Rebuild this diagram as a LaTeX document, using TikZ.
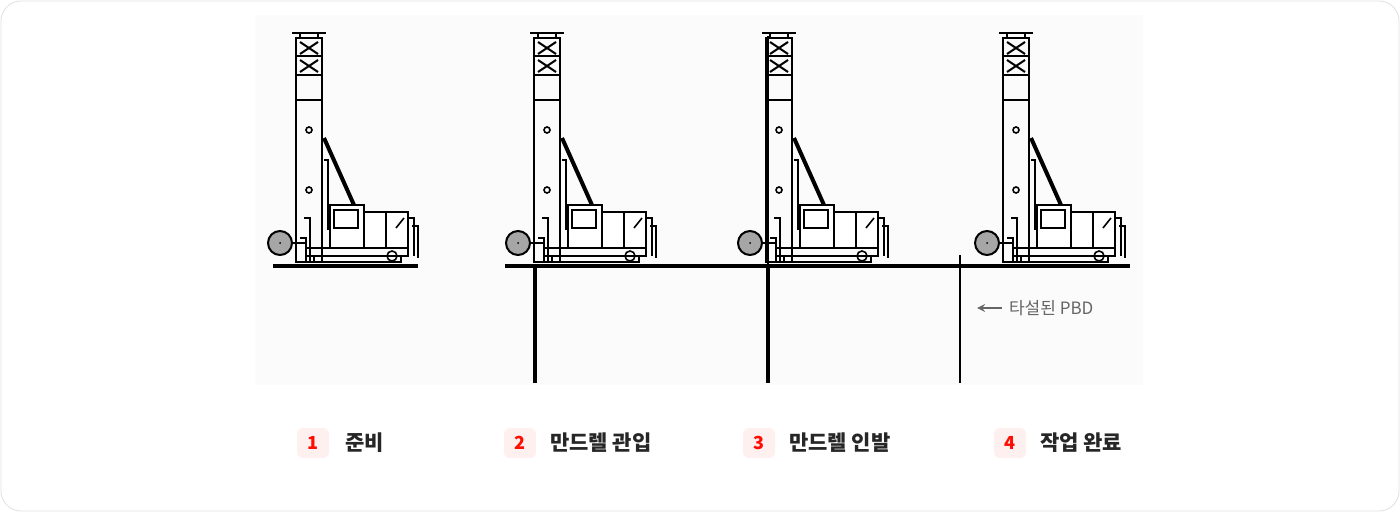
\documentclass[tikz,border=0pt]{standalone}
\usepackage{fontspec}
\setmainfont{Noto Sans CJK KR}
\begin{document}
\begin{tikzpicture}[x=0.5pt,y=-0.5pt,
  lbl/.style={font=\fontsize{10.5}{12}\selectfont\bfseries, text=black!85},
  badge/.style={fill=red!6, rounded corners=3pt, minimum width=16pt, minimum height=15pt, text=red!90!orange, font=\fontsize{9}{10}\selectfont\bfseries},
  ln/.style={line width=1.2pt},
  machine/.pic={
    \draw[ln] (0,38) rectangle (26,262);
    \draw[ln] (-4,33) -- (30,33); \draw[line width=0.6pt] (4,33)--(4,38) (22,33)--(22,38);
    \draw[ln] (0,56) -- (26,56) (0,75) -- (26,75);
    \draw[line width=1pt] (4,42)--(22,54) (22,42)--(4,54) (4,60)--(22,72) (22,60)--(4,72);
    \draw[line width=0.8pt] (13,130) circle (3) (13,190) circle (3);
    \draw[line width=0.8pt] (0,100)--(26,100);
    \draw[line width=2pt] (28,138) -- (62,214);
    \draw[line width=1pt] (28,160)--(32,160)--(32,230);
    \draw[ln,fill=white] (34,205) rectangle (68,248);
    \draw[line width=0.8pt] (38,210) rectangle (62,228);
    \draw[ln,fill=white] (68,212) rectangle (112,248);
    \draw[line width=0.8pt] (90,212)--(90,248) (100,228)--(108,218);
    \draw[ln] (112,218)--(118,218)--(118,256) (116,226)--(122,226)--(122,258);
    \draw[ln] (10,248) rectangle (112,256);
    \draw[ln] (18,256) rectangle (105,262);
    \draw[line width=0.8pt] (96,256) circle (5);
    \draw[ln] (8,218)--(14,218)--(14,262) (4,238)--(10,238)--(10,262);
    \draw[line width=1pt,fill=gray!70] (-16,243) circle (12);
    \fill (-16,243) circle (1);
    \draw[line width=0.8pt] (-4,243)--(10,243);
  }]
\useasboundingbox (0,0) rectangle (1400,512);
\draw[black!12, rounded corners=10pt, fill=white] (1,1) rectangle (1399,511);
\fill[black!1.5] (255,15) rectangle (1143,385);
\draw[line width=1.6pt] (273,266) coordinate (g1) -- (418,266) coordinate (g2);
\draw[line width=1.6pt] (505,266) coordinate (g3) -- (1130,266) coordinate (g4);
\pic at (296,0) {machine};
\pic at (534,0) {machine};
\pic at (766,0) {machine};
\pic at (1003,0) {machine};
\draw[line width=1.8pt] (535,266) coordinate (p1) -- (535,383) coordinate (p2);
\draw[line width=1.8pt] (768,266) coordinate (p3) -- (768,383) coordinate (p4);
\draw[line width=0.7pt] (768,36) -- (768,266);
\draw[line width=0.8pt] (960,255) coordinate (p5) -- (960,383) coordinate (p6);
\node[text=black!60, font=\fontsize{8.5}{10}\selectfont, anchor=west] (ann) at (1002,308) {타설된 PBD};
\coordinate (a0) at (977,308);
\draw[black!60, line width=0.8pt, -stealth] (ann.west) -- (a0);
\node[badge] (b1) at (313,443) {1};
\node[lbl, anchor=west] (t1) at (338,443) {준비};
\node[badge] (b2) at (520,443) {2};
\node[lbl, anchor=west] (t2) at (543,443) {만드렐 관입};
\node[badge] (b3) at (759,443) {3};
\node[lbl, anchor=west] (t3) at (782,443) {만드렐 인발};
\node[badge] (b4) at (1010,443) {4};
\node[lbl, anchor=west] (t4) at (1033,443) {작업 완료};
\end{tikzpicture}
\end{document}
